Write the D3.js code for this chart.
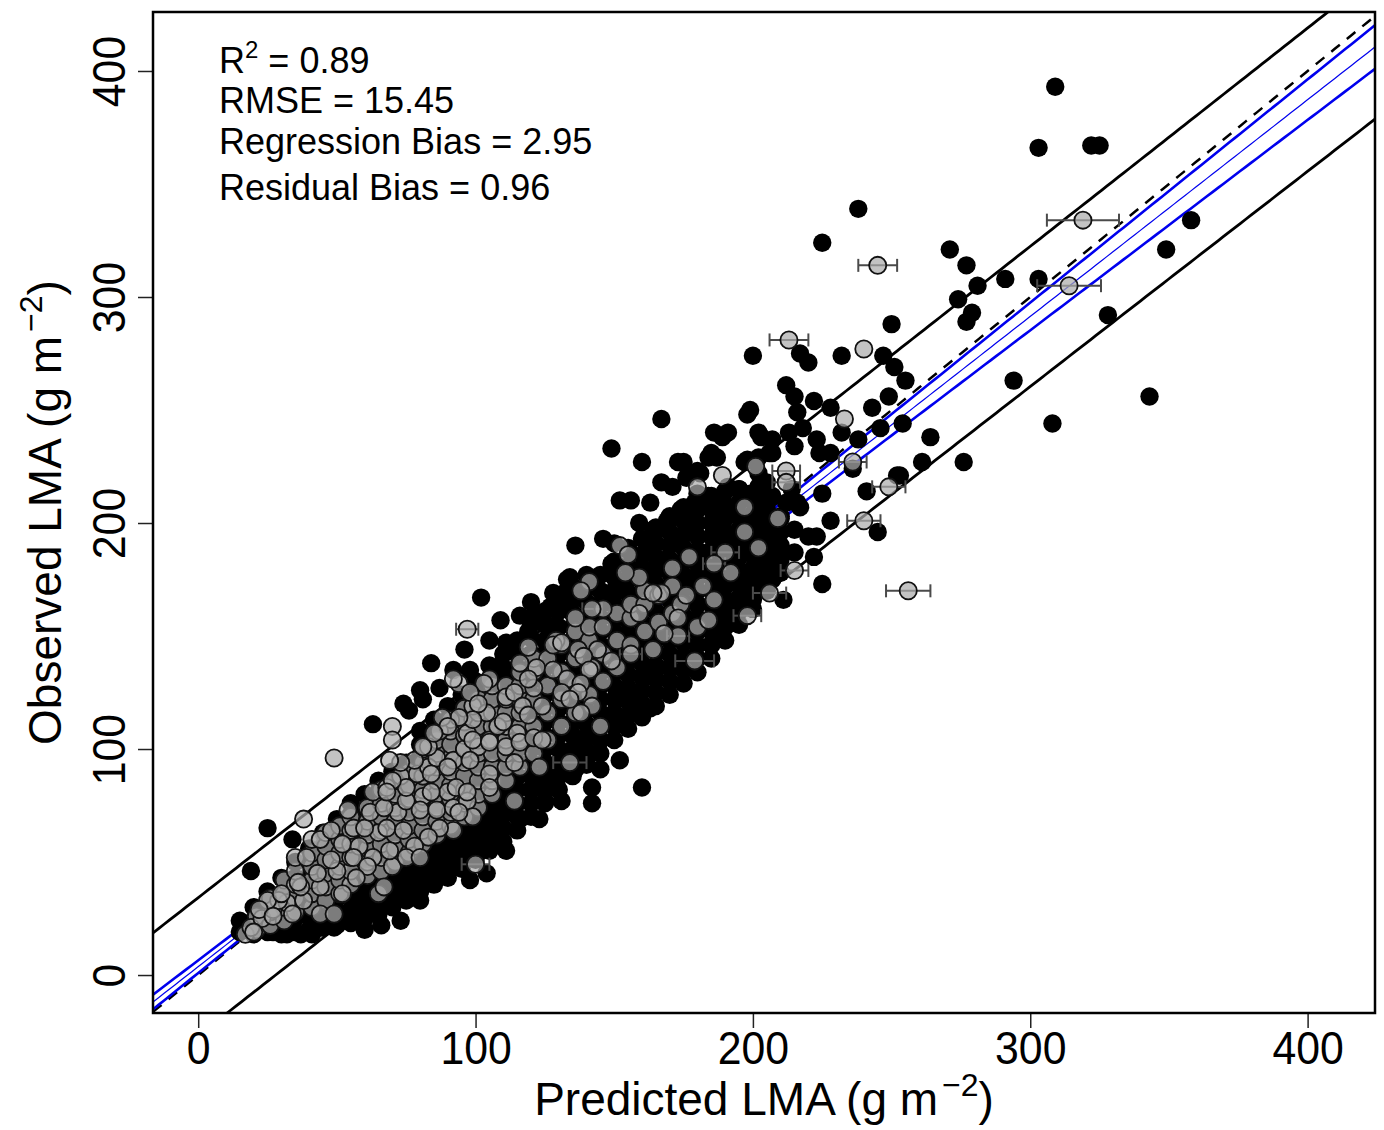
<!DOCTYPE html>
<head>
  <title>Predicted vs observed LMA</title>
</head>
<style>

html, body {
  margin: 0;
  padding: 0;
  background: #ffffff;
}

svg {
  display: block;
  font-family: "Liberation Sans", Arial, sans-serif;
}

.frame {
  fill: none;
  stroke: #000000;
  stroke-width: 2.5px;
}

.axis path.domain {
  display: none;
}

.axis line {
  stroke: #222222;
  stroke-width: 1.5px;
}

.axis text {
  font-size: 46px;
  fill: #000000;
}

.pi-line {
  fill: none;
  stroke: #000000;
  stroke-width: 2.8px;
}

.one-to-one {
  fill: none;
  stroke: #000000;
  stroke-width: 2.5px;
  stroke-dasharray: 11, 9;
}

.ci-line {
  fill: none;
  stroke: #0000ee;
  stroke-width: 2.6px;
}

.fit-line {
  fill: none;
  stroke: #0000ee;
  stroke-width: 1.2px;
}

.black-pt {
  fill: #000000;
}

.gray-pt {
  fill: rgb(172, 172, 172);
  fill-opacity: 0.72;
  stroke: #111111;
  stroke-width: 1.8px;
}

.err {
  stroke: #4a4a4a;
  stroke-width: 2px;
}

.stats text {
  font-size: 36px;
}

.title {
  font-size: 46px;
}
</style>

<svg width="1384" height="1130"></svg>

<script src="https://d3js.org/d3.v7.min.js"></script>
<script>
/**
 * Black points, [predicted, observed]: the scattered ones that can be read one by one.
 */
var blackPoints = [
  [309,393],[303,366],[322,367],[325,367],[238,339],[225,324],[271,321],[277,314],[291,308],[303,308],
  [281,305],[274,299],[277,289],[279,293],[250,288],[328,292],[349,321],[358,334],[343,256],[308,244],
  [294,263],[276,227],[264,238],[261,227],[252,221],[245,196],[225,173],[255,263],[254,244],[246,242],
  [249,256],[243,251],[251,269],[247,274],[232,274],[217,275],[220,271],[200,274],[212,261],[215,256],
  [216,249],[222,254],[228,251],[199,250],[198,248],
  [186,240],[189,238],[203,238],[213,240],[215,234],[223,237],[224,231],[232,240],[228,231],[238,237],
  [207,231],[202,229],[197,227],[187,229],[184,229],[175,227],[176,220],[181,222],[202,222],[205,218],
  [199,213],[203,209],[207,212],[214,215],[216,209],[225,213],[228,201],[223,194],[236,224],[241,214],
  [253,221],[188,210],[186,203],[192,204],[210,203],[204,198],[196,197],[217,207],[211,166],
  [149,233],[160,227],[167,246],[173,227],[180,223],[191,240],[202,240],[207,237],[218,242],[198,228],
  [206,231],[185,231],
  [167,218],[171,216],[156,210],[163,209],[174,206],[179,209],[184,212],[191,216],[195,215],[202,216],[212,209],
  [159,200],[164,197],[169,201],[177,200],[186,201],[191,204],[200,203],[207,198],[215,197],[220,194],
  [136,190],[150,191],[155,189],[163,189],[171,191],[177,187],[184,187],[191,191],[198,189],[205,187],
  [215,187],[222,185],
  [134,176],[132,169],[144,176],[149,182],[151,172],[163,179],[169,184],[176,176],[181,178],[187,175],
  [193,176],[198,173],[207,175],
  [127,163],[128,154],[147,165],[155,157],[162,163],[166,154],[171,160],[177,157],[186,163],[189,163],
  [195,165],[200,166],
  [163,118],[142,83],[142,76],[160,83],[133,96],[128,89],
  [102,167],[120,165],[121,159],[96,144],[84,138],[74,120],[63,111],[105,148],[111,147],[119,152],
  [123,141],[133,175],[138,167],[128,169],[150,169],[157,120],[150,114],[145,104],[138,104],[92,135],
  [87,127],[81,122],[155,126],[160,132],[164,134],
  [99,55],[104,45],[103,67],[105,73],[34,60],[25,65],[19,46],[16,21],
  [113,77],[120,82],[125,86],[131,91],[116,69],[111,55],[125,77],[136,91],[138,100],[152,95],
  [145,91],[140,95],[131,77],[123,69],[98,42],[102,55],[80,33],[73,24],[66,22],[60,20],
  [37,18],[32,18],[27,19],[22,21],[44,21],[49,21],[41,18],[54,26],[58,26],
  [98,135],[109,137],[129,155],[131,164],[116,159],[109,157],[80,126],[76,117],[152,210],[146,193]
];

/**
 * Black points in the solid core of the cloud, read column by column:
 * [predicted, [observed values]].
 */
var blackColumns = [
  [15, [19, 24]],
  [20, [18, 24, 30]],
  [25, [19, 25, 31, 37]],
  [30, [18, 24, 30, 36, 43]],
  [35, [19, 25, 31, 37, 43, 50]],
  [40, [20, 26, 32, 38, 44, 50, 56]],
  [45, [21, 27, 33, 39, 45, 51, 57, 63]],
  [50, [22, 28, 34, 40, 46, 52, 58, 64, 69]],
  [55, [23, 29, 35, 41, 47, 53, 59, 65, 71, 76]],
  [60, [25, 31, 37, 43, 49, 55, 61, 67, 73, 80]],
  [65, [27, 33, 39, 45, 51, 57, 63, 69, 75, 81, 86]],
  [70, [30, 36, 42, 48, 54, 60, 66, 72, 78, 84, 90]],
  [75, [33, 39, 45, 51, 57, 63, 69, 75, 81, 87, 94]],
  [80, [37, 43, 49, 55, 61, 67, 73, 79, 85, 91, 97, 102, 108]],
  [85, [40, 46, 52, 58, 64, 70, 76, 82, 88, 94, 100, 107, 113]],
  [90, [43, 49, 55, 61, 67, 73, 79, 85, 91, 97, 103, 109, 113, 119]],
  [95, [47, 53, 59, 65, 71, 77, 83, 89, 95, 101, 107, 113, 118, 124]],
  [100, [51, 57, 63, 69, 75, 81, 87, 93, 99, 105, 111, 117, 124, 130]],
  [105, [55, 61, 67, 73, 79, 85, 91, 97, 103, 109, 115, 121, 127, 131, 137]],
  [110, [59, 65, 71, 77, 83, 89, 95, 101, 107, 113, 119, 125, 131, 136, 142]],
  [115, [64, 70, 76, 82, 88, 94, 100, 106, 112, 118, 124, 130, 136, 142, 148]],
  [120, [70, 76, 82, 88, 94, 100, 106, 112, 118, 124, 130, 136, 142, 149, 155]],
  [125, [76, 82, 88, 94, 100, 106, 112, 118, 124, 130, 136, 142, 148, 155, 161]],
  [130, [82, 88, 94, 100, 106, 112, 118, 124, 130, 136, 142, 148, 154, 161, 166]],
  [135, [88, 94, 100, 106, 112, 118, 124, 130, 136, 142, 148, 154, 160, 166, 172]],
  [140, [93, 99, 105, 111, 117, 123, 129, 135, 141, 147, 153, 159, 165, 171, 177]],
  [145, [98, 104, 110, 116, 122, 128, 134, 140, 146, 152, 158, 164, 170, 177]],
  [150, [104, 110, 116, 122, 128, 134, 140, 146, 152, 158, 164, 170, 176, 183]],
  [155, [109, 115, 121, 127, 133, 139, 145, 151, 157, 163, 169, 175, 181, 188]],
  [160, [114, 120, 126, 132, 138, 144, 150, 156, 162, 168, 174, 180, 186, 193]],
  [165, [119, 125, 131, 137, 143, 149, 155, 161, 167, 173, 179, 185, 191, 198]],
  [170, [124, 130, 136, 142, 148, 154, 160, 166, 172, 178, 184, 190, 196, 203]],
  [175, [129, 135, 141, 147, 153, 159, 165, 171, 177, 183, 189, 195, 201, 207]],
  [180, [134, 140, 146, 152, 158, 164, 170, 176, 182, 188, 194, 200, 206, 213]],
  [185, [140, 146, 152, 158, 164, 170, 176, 182, 188, 194, 200, 206, 212]],
  [190, [148, 154, 160, 166, 172, 178, 184, 190, 196, 202, 208, 214]],
  [195, [155, 161, 167, 173, 179, 185, 191, 197, 203, 209, 215]],
  [200, [162, 168, 174, 180, 186, 192, 198, 204, 210]],
  [205, [170, 176, 182, 188, 194, 200, 206]],
  [210, [178, 184, 190, 196, 202]]
];

/**
 * Gray points: [predicted, observed, error of the prediction (0 = no bar)].
 */
var grayPoints = [
  [17,18,0],[19,21,0],[23,25,0],[27,29,0],[32,32,0],[29,33,0],[38,33,0],[37,39,0],[36,41,0],[44,39,0],
  [43,45,0],[50,46,0],[48,51,0],[39,52,0],[38,69,0],[44,60,0],[48,64,0],[54,73,0],[56,65,0],[52,58,0],
  [58,57,0],[56,52,0],[63,52,0],[61,48,0],[57,43,0],[65,36,0],[67,39,0],[70,48,0],[69,55,0],[65,63,0],
  [60,65,0],[62,72,0],[68,65,0],[74,64,0],[72,72,0],[75,77,0],[81,79,0],[80,73,0],[86,73,0],[90,81,0],
  [93,83,0],[92,74,0],[97,77,0],[99,70,0],[92,64,0],[87,65,0],[83,61,0],[78,57,0],[75,52,0],[80,52,0],
  [67,74,0],[63,81,0],[68,83,0],[73,88,0],[79,89,0],[83,92,0],[86,96,0],[92,95,0],[96,100,0],[101,101,0],
  [105,104,0],[97,107,0],[91,113,0],[87,108,0],[83,101,0],[78,95,0],[99,119,0],[104,116,0],[94,72,0],[25,33,0],
  [30,36,0],[22,29,0],[20,19,0],[27,26,0],[34,27,0],[44,27,0],[49,27,0],[52,36,0],
  [49,96,0],[70,110,0],[70,104,0],[97,153,4],[100,49,5],[134,94,6],[179,139,7],[198,159,5],[206,169,6],[215,179,5],
  [212,223,5],[212,218,5],[213,281,7],[240,277,0],[245,314,7],[319,334,13],[314,305,11.5],[256,170,8],[240,201,6],[249,216,6],
  [236,227,5],[233,246,0],
  [201,225,0],[189,221,0],[180,216,0],[197,207,0],[209,202,0],[197,196,0],[202,189,0],[190,187,5],[192,178,0],[186,182,4],
  [177,185,0],[171,180,0],[159,176,0],[152,190,0],[155,186,0],[167,169,0],[164,169,0],[174,164,0],[173,158,0],[180,154,0],
  [184,157,0],[159,160,0],[173,150,4],[146,162,0],[142,162,3.5],[136,158,0],[141,174,0],[138,170,0],[129,148,0],[137,144,0],
  [144,144,0],[156,142,4],[164,144,0],[142,136,0],[149,139,0],[154,178,0],
  [119,145,0],[128,146,0],[131,147,0],[139,141,0],[122,136,0],[116,138,0],[128,135,0],[133,131,0],[141,135,0],[138,129,0],
  [131,125,0],[137,125,0],[142,119,0],[138,116,0],[145,110,0],[134,122,0],[124,119,0],[121,127,0],[119,131,0],[111,123,0],
  [114,125,0],[117,119,0],[105,131,0],[103,129,0],[94,129,0],[92,131,0],[98,125,0],[101,120,0],[119,115,0],[108,110,0],
  [110,112,0],[115,107,0],[99,113,0],[94,114,0],[88,114,0],[90,110,0],[85,107,0],[81,101,0],[73,94,0],[69,95,0],
  [99,104,0],[105,103,0],[111,101,0],[116,103,0],[121,105,0],[124,104,0],[123,92,0],[114,94,0],[105,89,0],[98,95,0],
  [90,92,0],[84,89,0],[75,83,0],[70,86,0],[68,81,0],[84,81,0],[97,81,0],[105,83,0],[114,77,0],
  [176,168,0],[182,172,0],[168,151,0],[186,166,0]
];

/**
 * Gray points filling the core of the cloud, column by column: [predicted, [observed values]].
 */
var grayColumns = [
  [21, [20, 26]],
  [26, [22, 28, 34]],
  [31, [24, 30, 36, 42]],
  [35, [28, 34, 40, 46, 52]],
  [41, [30, 36, 42, 48, 54, 60]],
  [46, [33, 39, 45, 51, 57, 63]],
  [51, [36, 42, 48, 54, 60, 66]],
  [55, [40, 46, 52, 58, 64, 70]],
  [61, [44, 50, 56, 62, 68, 74]],
  [66, [46, 52, 58, 64, 70, 76, 82]],
  [71, [50, 56, 62, 68, 74, 80, 86]],
  [76, [54, 60, 66, 72, 78, 84, 90]],
  [81, [58, 64, 70, 76, 82, 88, 94, 100]],
  [86, [62, 68, 74, 80, 86, 92, 98, 104]],
  [91, [66, 72, 78, 84, 90, 96, 102, 108]],
  [96, [70, 76, 82, 88, 94, 100, 106, 112, 118]],
  [101, [74, 80, 86, 92, 98, 104, 110, 116, 122]],
  [106, [80, 86, 92, 98, 104, 110, 116, 122, 128]],
  [111, [86, 92, 98, 104, 110, 116, 122, 128]],
  [116, [92, 98, 104, 110, 116, 122, 128, 134]],
  [121, [98, 110, 122, 134, 140]],
  [126, [104, 116, 128, 140]],
  [131, [110, 122, 134, 146]],
  [136, [116, 128, 140, 152]],
  [141, [124, 136, 148, 154]],
  [146, [130, 142, 154]],
  [151, [136, 148, 160]],
  [156, [146, 158, 164]],
  [161, [152, 164, 170]],
  [166, [156, 168]],
  [171, [160, 172]]
];

var xTicks = [0, 100, 200, 300, 400];
var yTicks = [0, 100, 200, 300, 400];
var xDomain = [-16.3, 424.3];
var yDomain = [-16.8, 426.1];

// fitted regression (observed ~ predicted) with its confidence and prediction bands
var fitIntercept = 3.7;
var fitSlope = 0.959;
var fitMeanX = 90;
var ciMin = 1.1;
var ciGrowth = 0.0287;
var piBase = 30.4;

var statLines = [
  { label: "R", sup: "2", rest: " = 0.89" },
  { label: "RMSE = 15.45" },
  { label: "Regression Bias = 2.95" },
  { label: "Residual Bias = 0.96" }
];
var statBaselines = [73, 113, 154, 200];

var plot = { left: 153, right: 1375, top: 12, bottom: 1013 };

// columns of read values -> plain point lists
blackColumns.forEach(function(c) {
  c[1].forEach(function(v) { blackPoints.push([c[0], v]); });
});
var coreGray = [];
grayColumns.forEach(function(c) {
  c[1].forEach(function(v) { coreGray.push([c[0], v, 0]); });
});
var allGray = coreGray.concat(grayPoints);

var svg = d3.select("svg");
svg.append("rect").attr("width", 1384).attr("height", 1130).attr("fill", "#ffffff");

var x = d3.scaleLinear().domain(xDomain).range([plot.left, plot.right]);
var y = d3.scaleLinear().domain(yDomain).range([plot.bottom, plot.top]);

svg.append("clipPath").attr("id", "plot-clip")
  .append("rect")
    .attr("x", plot.left).attr("y", plot.top)
    .attr("width", plot.right - plot.left).attr("height", plot.bottom - plot.top);

var lines = svg.append("g").attr("clip-path", "url(#plot-clip)");

function fitAt(v) { return fitIntercept + fitSlope * v; }
function ciHalf(v) { return Math.sqrt(ciMin * ciMin + Math.pow(ciGrowth * (v - fitMeanX), 2)); }
function piHalf(v) { var c = ciHalf(v); return Math.sqrt(piBase * piBase + c * c); }

var xs = d3.range(xDomain[0], xDomain[1] + 2, 2);
var curve = function(fn) {
  return d3.line().x(function(d) { return x(d); }).y(function(d) { return y(fn(d)); })(xs);
};

lines.append("path").attr("class", "pi-line").attr("d", curve(function(v) { return fitAt(v) + piHalf(v); }));
lines.append("path").attr("class", "pi-line").attr("d", curve(function(v) { return fitAt(v) - piHalf(v); }));
lines.append("path").attr("class", "one-to-one").attr("d", curve(function(v) { return v; }));
lines.append("path").attr("class", "ci-line").attr("d", curve(function(v) { return fitAt(v) + ciHalf(v); }));
lines.append("path").attr("class", "ci-line").attr("d", curve(function(v) { return fitAt(v) - ciHalf(v); }));
lines.append("path").attr("class", "fit-line").attr("d", curve(fitAt));

var r = 9.2;

svg.append("g")
  .selectAll("circle")
  .data(blackPoints)
  .enter().append("circle")
    .attr("class", "black-pt")
    .attr("cx", function(d) { return x(d[0]); })
    .attr("cy", function(d) { return y(d[1]); })
    .attr("r", r);

var withErr = allGray.filter(function(d) { return d[2] > 0; });
var errs = svg.append("g").attr("class", "err");
errs.selectAll("line.bar")
  .data(withErr)
  .enter().append("line")
    .attr("x1", function(d) { return x(d[0] - d[2]); })
    .attr("x2", function(d) { return x(d[0] + d[2]); })
    .attr("y1", function(d) { return y(d[1]); })
    .attr("y2", function(d) { return y(d[1]); });
[-1, 1].forEach(function(side) {
  errs.selectAll("line.cap" + side)
    .data(withErr)
    .enter().append("line")
      .attr("x1", function(d) { return x(d[0] + side * d[2]); })
      .attr("x2", function(d) { return x(d[0] + side * d[2]); })
      .attr("y1", function(d) { return y(d[1]) - 6.5; })
      .attr("y2", function(d) { return y(d[1]) + 6.5; });
});

svg.append("g")
  .selectAll("circle")
  .data(allGray)
  .enter().append("circle")
    .attr("class", "gray-pt")
    .attr("cx", function(d) { return x(d[0]); })
    .attr("cy", function(d) { return y(d[1]); })
    .attr("r", r - 0.6);

// axes
var xAxis = svg.append("g")
  .attr("class", "axis")
  .attr("transform", "translate(0," + plot.bottom + ")")
  .call(d3.axisBottom(x).tickValues(xTicks).tickSize(15).tickFormat(d3.format("d")));
xAxis.selectAll("text")
  .attr("y", 0).attr("dy", 0)
  .attr("transform", "translate(0,51) scale(0.93,1)");

var yAxis = svg.append("g")
  .attr("class", "axis")
  .attr("transform", "translate(" + plot.left + ",0)")
  .call(d3.axisLeft(y).tickValues(yTicks).tickSize(15).tickFormat(d3.format("d")));
yAxis.selectAll("text")
  .attr("x", 0).attr("y", 0).attr("dy", 0)
  .attr("text-anchor", "middle")
  .attr("transform", "translate(-28,0) rotate(-90) scale(0.93,1)");

svg.append("rect")
  .attr("class", "frame")
  .attr("x", plot.left).attr("y", plot.top)
  .attr("width", plot.right - plot.left).attr("height", plot.bottom - plot.top);

// axis titles
var xt = svg.append("text")
  .attr("class", "title")
  .attr("x", (plot.left + plot.right) / 2)
  .attr("y", 1115)
  .attr("text-anchor", "middle");
xt.append("tspan").text("Predicted LMA (g m");
xt.append("tspan").attr("font-size", 32).attr("dy", -19).attr("dx", 4).text("\u22122");
xt.append("tspan").attr("dy", 19).text(")");

var yt = svg.append("text")
  .attr("class", "title")
  .attr("transform", "translate(61," + (plot.top + plot.bottom) / 2 + ") rotate(-90)")
  .attr("text-anchor", "middle");
yt.append("tspan").text("Observed LMA (g m");
yt.append("tspan").attr("font-size", 32).attr("dy", -19).attr("dx", 4).text("\u22122");
yt.append("tspan").attr("dy", 19).text(")");

// fit statistics
var stats = svg.append("g").attr("class", "stats");
statLines.forEach(function(s, i) {
  var t = stats.append("text").attr("x", 219).attr("y", statBaselines[i]);
  t.append("tspan").text(s.label);
  if (s.sup) {
    t.append("tspan").attr("font-size", 24).attr("dy", -15).text(s.sup);
    t.append("tspan").attr("dy", 15).text(s.rest);
  }
});
</script>
